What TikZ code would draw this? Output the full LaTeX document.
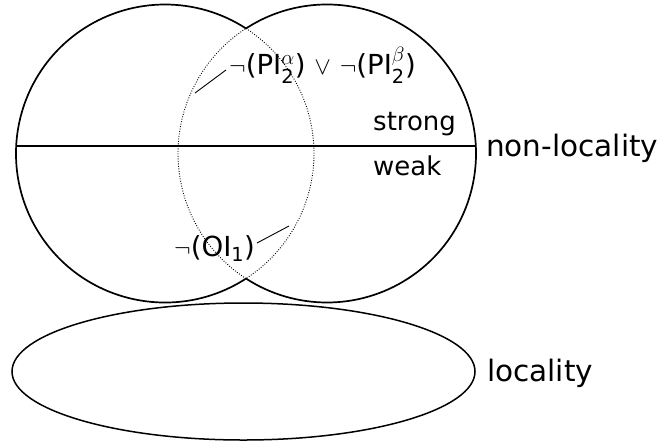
\documentclass[tikz,border=0pt]{standalone}
\usepackage{amsmath}
\usepackage{fontspec}
\setmainfont{DejaVu Sans}
\usetikzlibrary{shapes.geometric}
\begin{document}
\begin{tikzpicture}[x=1pt,y=-1pt,
  outline/.style={line width=1.7pt},
  lens/.style={line width=0.9pt,dash pattern=on 0.9pt off 1.6pt},
  leader/.style={line width=0.9pt},
  bigtext/.style={font=\fontsize{29.5}{31}\selectfont,inner sep=0pt,anchor=base west},
  smalltext/.style={font=\fontsize{26}{28}\selectfont,inner sep=0pt,anchor=base west},
  formula/.style={font=\fontsize{27.6}{29}\selectfont,inner sep=0pt,anchor=base west}]
\useasboundingbox (0,0) rectangle (660,442);
\coordinate (cl) at (165,153.5);
\coordinate (cr) at (327,153.5);
% outer arcs (solid)
\draw[outline] (cl) ++(57.05:149) arc[start angle=57.05,end angle=302.95,radius=149];
\draw[outline] (cr) ++(-122.95:149) arc[start angle=-122.95,end angle=122.95,radius=149];
% inner arcs (dotted lens)
\draw[lens] (cl) ++(-57.05:149) arc[start angle=-57.05,end angle=57.05,radius=149];
\draw[lens] (cr) ++(122.95:149) arc[start angle=122.95,end angle=237.05,radius=149];
% dividing line
\coordinate (lineL) at (16,146);
\coordinate (lineR) at (476,146);
\draw[outline] (lineL) -- (lineR);
% locality ellipse
\node[draw,line width=1.5pt,ellipse,minimum width=463pt,minimum height=137pt,inner sep=0pt] (loc) at (243.5,371.5) {};
% labels
\node[bigtext] (nonloc) at (486,156) {non-locality};
\node[bigtext] (locl) at (487,381) {locality};
\node[smalltext] (strong) at (373,130) {strong};
\node[smalltext] (weak) at (373,175) {weak};
\node[formula] (pi) at (229,74) {$\neg$(PI$^{\alpha}_{\text{2}}$) $\vee$ $\neg$(PI$^{\beta}_{\text{2}}$)};
\node[formula] (oi) at (174,256) {$\neg$(OI$_{\text{1}}$)};
% leaders
\coordinate (piend) at (195,93);
\coordinate (oiend) at (289,226);
\coordinate (pistart) at (226,70);
\coordinate (oistart) at (257,243);
\draw[leader] (pistart) -- (piend);
\draw[leader] (oistart) -- (oiend);
\end{tikzpicture}
\end{document}
